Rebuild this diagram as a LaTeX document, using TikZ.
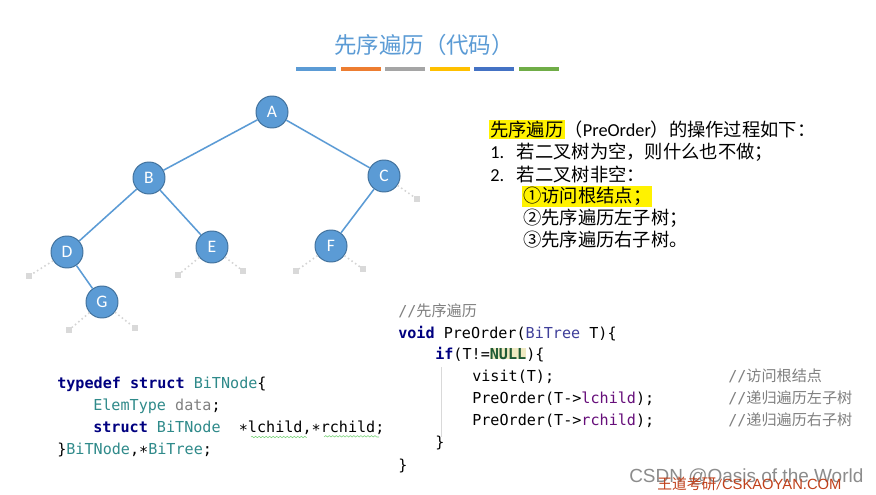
\documentclass[tikz,border=0pt]{standalone}
\usepackage{fontspec}
\setmainfont{Carlito}
\setmonofont{DejaVu Sans Mono}
\newfontfamily\cjk{Noto Sans CJK SC}
\newfontfamily\wmfont{Liberation Sans}
\newcommand{\zh}[1]{{\cjk #1}}
\usetikzlibrary{decorations.pathmorphing}

\definecolor{tblue}{HTML}{5B9BD5}
\definecolor{tborder}{HTML}{41719C}
\definecolor{kwblue}{HTML}{000080}
\definecolor{tyteal}{HTML}{2F8A8A}
\definecolor{tyblue}{HTML}{3F3F9A}
\definecolor{fldpurple}{HTML}{660E7A}
\definecolor{cmtgray}{HTML}{808080}
\definecolor{nullgreen}{HTML}{1F5A35}
\definecolor{nullbg}{HTML}{EFE9C2}
\definecolor{wmred}{HTML}{C0401A}
\definecolor{barA}{HTML}{5B9BD5}
\definecolor{barB}{HTML}{ED7D31}
\definecolor{barC}{HTML}{A5A5A5}
\definecolor{barD}{HTML}{FFC000}
\definecolor{barE}{HTML}{4472C4}
\definecolor{barF}{HTML}{70AD47}

\newcommand{\kw}[1]{\textcolor{kwblue}{\bfseries #1}}
\newcommand{\ty}[1]{\textcolor{tyteal}{#1}}
\newcommand{\cm}[1]{\textcolor{cmtgray}{//\zh{#1}}}
\newcommand{\ptr}{\raisebox{-0.35ex}{*}}

\tikzset{
  tnode/.style={circle,fill=tblue,draw=tborder,line width=0.7pt,minimum size=8mm,inner sep=0pt,
    text=white,font=\fontsize{12.5}{12.5}\selectfont},
  tedge/.style={tblue,line width=1.1pt},
  nilbox/.style={rectangle,fill=black!15,minimum size=1.4mm,inner sep=0pt},
  nilline/.style={black!17,dotted,line width=1.1pt},
  codeline/.style={anchor=west,inner sep=0pt,text height=2.3mm,text depth=0.7mm,
    font=\ttfamily\fontsize{10.75}{13}\selectfont},
  txtline/.style={anchor=west,inner sep=0pt,text height=3.4mm,text depth=1mm,
    font=\fontsize{13}{15}\selectfont}
}

\begin{document}
\begin{tikzpicture}[x=0.25mm,y=-0.25mm]
  \useasboundingbox[fill=white] (0,0) rectangle (876,494);
  % titulo
  \node[text=tblue,font=\cjk\fontsize{16}{18}\selectfont] (title) at (424,45) {先序遍历（代码）};
  \foreach \c [count=\i from 0] in {barA,barB,barC,barD,barE,barF}
    \fill[\c] (296+44.6*\i,67.5) rectangle ++(40,4);
  % arbol
  \node[tnode] (A) at (272,112) {A};
  \node[tnode] (B) at (149,178) {B};
  \node[tnode] (C) at (384,176) {C};
  \node[tnode] (D) at (67,252) {D};
  \node[tnode] (E) at (212,247) {E};
  \node[tnode] (F) at (331,246) {F};
  \node[tnode] (G) at (102,302) {G};
  \draw[tedge] (A) -- (B);
  \draw[tedge] (A) -- (C);
  \draw[tedge] (B) -- (D);
  \draw[tedge] (B) -- (E);
  \draw[tedge] (C) -- (F);
  \draw[tedge] (D) -- (G);
  % hijos vacios
  \node[nilbox] (Cr) at (417,199) {};
  \node[nilbox] (Dl) at (29,276) {};
  \node[nilbox] (El) at (178,275) {};
  \node[nilbox] (Er) at (243,271) {};
  \node[nilbox] (Fl) at (296,271) {};
  \node[nilbox] (Fr) at (363,269) {};
  \node[nilbox] (Gl) at (69,330) {};
  \node[nilbox] (Gr) at (135,328) {};
  \foreach \p/\q in {C/Cr,D/Dl,E/El,E/Er,F/Fl,F/Fr,G/Gl,G/Gr}
    \draw[nilline] (\p) -- (\q);
  % pasos
  \fboxsep=0.8pt
  \node[txtline] (hdr) at (489,132) {\colorbox{yellow}{\zh{先序遍历}}\zh{（}PreOrder\zh{）的操作过程如下：}};
  \node[txtline] (stepone) at (490,154) {1.\hspace{0.7em}\zh{若二叉树为空，则什么也不做；}};
  \node[txtline] (steptwo) at (490,177) {2.\hspace{0.7em}\zh{若二叉树非空：}};
  \node[txtline] (subone) at (522,198) {\colorbox{yellow}{\zh{①访问根结点；}}};
  \node[txtline] (subtwo) at (523,220) {\zh{②先序遍历左子树；}};
  \node[txtline] (subthree) at (523,242) {\zh{③先序遍历右子树。}};
  % codigo PreOrder
  \node[codeline] (c0) at (398,313) {\cm{先序遍历}};
  \node[codeline] (c1) at (398,335) {\kw{void} PreOrder(\textcolor{tyblue}{BiTree} T)\{};
  \node[codeline] (c2) at (435,356) {\kw{if}(T!=\fboxsep=0pt\colorbox{nullbg}{\textcolor{nullgreen}{\bfseries NULL}})\{};
  \node[codeline] (c3) at (472,378) {visit(T);};
  \node[codeline] (c4) at (472,400) {PreOrder(T->\textcolor{fldpurple}{lchild});};
  \node[codeline] (c5) at (472,422) {PreOrder(T->\textcolor{fldpurple}{rchild});};
  \node[codeline] (c6) at (435,444) {\}};
  \node[codeline] (c7) at (398,467) {\}};
  \node[codeline] (m3) at (728,378) {\cm{访问根结点}};
  \node[codeline] (m4) at (728,400) {\cm{递归遍历左子树}};
  \node[codeline] (m5) at (728,422) {\cm{递归遍历右子树}};
  \draw[black!15,line width=0.6pt] (441,367) -- (441,437);
  % codigo struct
  \node[codeline] (s0) at (57,385) {\kw{typedef} \kw{struct} \ty{BiTNode}\{};
  \node[codeline] (s1) at (93,407) {\ty{ElemType} \textcolor{cmtgray}{data};};
  \node[codeline] (s2) at (93,429) {\kw{struct} \ty{BiTNode}~~\ptr lchild,\ptr rchild;};
  \node[codeline] (s3) at (57,451) {\}\ty{BiTNode},\ptr\ty{BiTree};};
  \draw[green!50!gray!70,line width=0.4pt,decorate,decoration={snake,amplitude=0.5pt,segment length=2.5pt}]
    (251,437) -- (306,437) (324,437) -- (379,437);
  % marcas de agua
  \node[text=black!45,font=\wmfont\fontsize{13.5}{15}\selectfont,anchor=west,inner sep=0pt] (csdn) at (629,477) {CSDN @Oasis of the World};
  \node[text=wmred,font=\fontsize{10.5}{12}\selectfont,anchor=west,inner sep=0pt] (wd) at (657,484) {\zh{王道考研}/\wmfont CSKAOYAN.COM};
\end{tikzpicture}
\end{document}
